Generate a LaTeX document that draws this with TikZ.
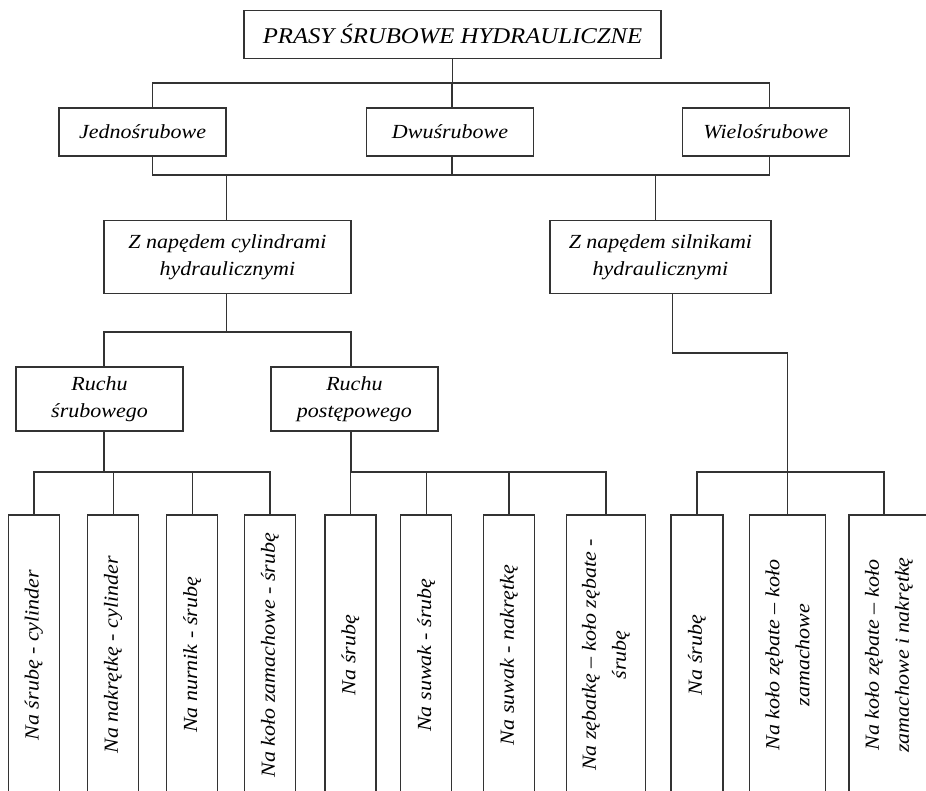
\documentclass[tikz,border=0pt]{standalone}
\usepackage{fontspec}
\setmainfont{Liberation Serif}[FakeStretch=1.1]
\begin{document}
\begin{tikzpicture}[x=1pt,y=-1pt,line width=1.4pt,draw=black!80,
  box/.style={draw=black!80, inner sep=0pt, align=center,
    font=\fontsize{20}{26.7}\selectfont\itshape},
  vbox/.style={box, rotate=90, minimum width=280pt,
    font=\fontsize{20}{30}\selectfont\itshape}]
\useasboundingbox (0,0) rectangle (926,791);

% heights of the horizontal buses
\coordinate (busA) at (0,83);
\coordinate (busB) at (0,175);
\coordinate (busC) at (0,332);
\coordinate (busD) at (0,353);
\coordinate (busE) at (0,472);

% title and number of screws
\node[box, minimum width=417pt, minimum height=48pt,
  font=\fontsize{22.5}{27}\selectfont\itshape] (top) at (452.5,34.5) {PRASY ŚRUBOWE HYDRAULICZNE};
\node[box, minimum width=167pt, minimum height=48pt] (jed) at (142.6,132) {Jednośrubowe};
\node[box, minimum width=167pt, minimum height=48pt] (dwu) at (450,132) {Dwuśrubowe};
\node[box, minimum width=167pt, minimum height=48pt] (wie) at (765.8,132) {Wielośrubowe};

\coordinate (jedT) at ([xshift=9.8pt]jed.north);
\coordinate (jedB) at ([xshift=9.8pt]jed.south);
\coordinate (dwuT) at ([xshift=1.9pt]dwu.north);
\coordinate (dwuB) at ([xshift=1.9pt]dwu.south);
\coordinate (wieT) at ([xshift=3.8pt]wie.north);
\coordinate (wieB) at ([xshift=3.8pt]wie.south);

\draw (top.south) -- (top.south |- busA);
\draw (jedT) |- (wieT |- busA) -- (wieT);
\draw (dwuT) -- (dwuT |- busA);
\draw (jedB) |- (wieB |- busB) -- (wieB);
\draw (dwuB) -- (dwuB |- busB);

% drive type
\node[box, minimum width=247pt, minimum height=73pt] (cyl) at (227.4,257.2) {Z napędem cylindrami\\hydraulicznymi};
\node[box, minimum width=221pt, minimum height=73pt] (sil) at (660.4,257.2) {Z napędem silnikami\\hydraulicznymi};

\coordinate (cylT) at ([xshift=-1.2pt]cyl.north);
\coordinate (cylB) at ([xshift=-1.2pt]cyl.south);
\coordinate (silT) at ([xshift=-4.8pt]sil.north);
\coordinate (silB) at ([xshift=11.8pt]sil.south);
\draw (cylT) -- (cylT |- busB);
\draw (silT) -- (silT |- busB);

% kind of motion
\node[box, minimum width=167pt, minimum height=64pt] (rs) at (99.5,399) {Ruchu\\śrubowego};
\node[box, minimum width=167pt, minimum height=64pt] (rp) at (354.4,399) {Ruchu\\postępowego};

\coordinate (rsT) at ([xshift=4.5pt]rs.north);
\coordinate (rsB) at ([xshift=4.5pt]rs.south);
\coordinate (rpT) at ([xshift=-3.5pt]rp.north);
\coordinate (rpB) at ([xshift=-3.5pt]rp.south);
\draw (cylB) -- (cylB |- busC);
\draw (rsT) |- (rpT |- busC) -- (rpT);

% driven elements (vertical boxes)
\node[vbox, minimum height=51pt] (b1) at (33.8,655) {Na śrubę - cylinder};
\node[vbox, minimum height=51pt] (b2) at (113.2,655) {Na nakrętkę - cylinder};
\node[vbox, minimum height=51pt] (b3) at (192.2,655) {Na nurnik - śrubę};
\node[vbox, minimum height=51pt] (b4) at (270,655) {Na koło zamachowe - śrubę};
\node[vbox, minimum height=51pt] (b5) at (350.5,655) {Na śrubę};
\node[vbox, minimum height=51pt] (b6) at (426.2,655) {Na suwak - śrubę};
\node[vbox, minimum height=51pt] (b7) at (509,655) {Na suwak - nakrętkę};
\node[vbox, minimum height=79pt] (b8) at (606,655) {Na zębatkę – koło zębate -\\śrubę};
\node[vbox, minimum height=52pt] (b9) at (697,655) {Na śrubę};
\node[vbox, minimum height=76pt] (b10) at (787.5,655) {Na koło zębate – koło\\zamachowe};
\node[vbox, minimum height=80pt] (b11) at (889,655) {Na koło zębate – koło\\zamachowe i nakrętkę};

\coordinate (b11T) at ([xshift=-5pt]b11.east);

\draw (rsB) -- (rsB |- busE);
\draw (b1.east) |- (b4.east |- busE) -- (b4.east);
\draw (b2.east) -- (b2.east |- busE);
\draw (b3.east) -- (b3.east |- busE);

\draw (rpB) -- (rpB |- busE);
\draw (b5.east) |- (b8.east |- busE) -- (b8.east);
\draw (b6.east) -- (b6.east |- busE);
\draw (b7.east) -- (b7.east |- busE);

\draw (silB) |- (b10.east |- busD) -- (b10.east);
\draw (b9.east) |- (b11T |- busE) -- (b11T);
\end{tikzpicture}
\end{document}
